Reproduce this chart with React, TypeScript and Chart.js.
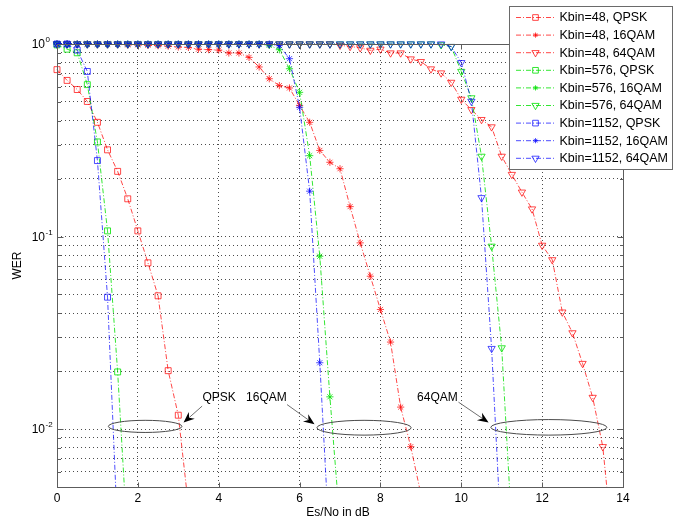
import React, { useEffect, useRef } from 'react';
import { Chart, registerables } from 'chart.js';

Chart.register(...registerables);

const FONT = '"Liberation Sans", Arial, Helvetica, sans-serif';

// Es/No grid in dB (shared x positions for every curve)
const esno = [
  0, 0.25, 0.5, 0.75, 1, 1.25, 1.5, 1.75, 2, 2.25, 2.5, 2.75, 3, 3.25,
  3.5, 3.75, 4, 4.25, 4.5, 4.75, 5, 5.25, 5.5, 5.75, 6, 6.25, 6.5, 6.75,
  7, 7.25, 7.5, 7.75, 8, 8.25, 8.5, 8.75, 9, 9.25, 9.5, 9.75, 10, 10.25,
  10.5, 10.75, 11, 11.25, 11.5, 11.75, 12, 12.25, 12.5, 12.75, 13, 13.25,
  13.5, 13.75,
];

const werQpsk48 = [0.736, 0.647, 0.58, 0.503, 0.392, 0.282, 0.218, 0.157, 0.107, 0.073, 0.0492, 0.0201, 0.0118, 0.004];
const werQpsk576 = [0.99, 0.94, 0.9, 0.615, 0.31, 0.107, 0.0198, 0.0025];
const werQpsk1152 = [1, 1, 0.93, 0.72, 0.248, 0.0484, 0.0029];

const wer16qam48 = [
  1, 1, 1, 1, 1, 1, 0.995, 0.99, 0.99, 0.985, 0.98, 0.975, 0.965, 0.96,
  0.94, 0.935, 0.93, 0.898, 0.898, 0.852, 0.76, 0.66, 0.608, 0.591, 0.479,
  0.392, 0.28, 0.243, 0.225, 0.143, 0.0927, 0.0622, 0.0418, 0.0283, 0.013,
  0.0081, 0.0046,
];
const wer16qam576 = [
  1, 1, 1, 1, 1, 1, 1, 1, 1, 1, 1, 1, 1, 1, 1, 1, 1, 1, 1, 1, 1, 0.985,
  0.934, 0.744, 0.561, 0.263, 0.079, 0.0147, 0.0032,
];
const wer16qam1152 = [
  1, 1, 1, 1, 1, 1, 1, 1, 1, 1, 1, 1, 1, 1, 1, 1, 1, 1, 1, 1, 1, 1,
  0.98, 0.839, 0.469, 0.172, 0.0221, 0.0023,
];

const wer64qam48 = [
  1, 1, 1, 1, 1, 1, 1, 1, 1, 1, 1, 1, 1, 1, 1, 1, 1, 1, 1, 1, 1, 1, 1, 1,
  1, 1, 1, 1, 0.985, 0.97, 0.955, 0.927, 0.94, 0.898, 0.898, 0.836, 0.81,
  0.742, 0.707, 0.632, 0.516, 0.456, 0.405, 0.371, 0.261, 0.21, 0.17, 0.139,
  0.09, 0.0757, 0.0405, 0.0316, 0.0219, 0.0146, 0.0081, 0.0024,
];
const wer64qam576 = [
  1, 1, 1, 1, 1, 1, 1, 1, 1, 1, 1, 1, 1, 1, 1, 1, 1, 1, 1, 1, 1, 1, 1, 1,
  1, 1, 1, 1, 1, 1, 1, 1, 1, 1, 1, 1, 1, 1, 0.99, 0.97, 0.72, 0.525, 0.261,
  0.089, 0.0264, 0.003,
];
const wer64qam1152 = [
  1, 1, 1, 1, 1, 1, 1, 1, 1, 1, 1, 1, 1, 1, 1, 1, 1, 1, 1, 1, 1, 1, 1, 1,
  1, 1, 1, 1, 1, 1, 1, 1, 1, 1, 1, 1, 1, 1, 1, 0.97, 0.8, 0.504, 0.159,
  0.0262, 0.0024,
];

const seriesNames = [
  'Kbin=48, QPSK', 'Kbin=48, 16QAM', 'Kbin=48, 64QAM',
  'Kbin=576, QPSK', 'Kbin=576, 16QAM', 'Kbin=576, 64QAM',
  'Kbin=1152, QPSK', 'Kbin=1152, 16QAM', 'Kbin=1152, 64QAM',
];
const seriesValues = [
  werQpsk48, wer16qam48, wer64qam48,
  werQpsk576, wer16qam576, wer64qam576,
  werQpsk1152, wer16qam1152, wer64qam1152,
];
const seriesColors = [
  'rgba(255,0,0,0.72)', 'rgba(255,0,0,0.72)', 'rgba(255,0,0,0.72)',
  'rgba(0,225,0,0.8)', 'rgba(0,225,0,0.8)', 'rgba(0,225,0,0.8)',
  'rgba(0,0,255,0.7)', 'rgba(0,0,255,0.7)', 'rgba(0,0,255,0.7)',
];
const seriesMarkers = ['rect', 'star', 'tri', 'rect', 'star', 'tri', 'rect', 'star', 'tri'];

const xTicks = [0, 2, 4, 6, 8, 10, 12, 14];
const yTicks = [
  0.005, 0.006, 0.007, 0.008, 0.009,
  0.01, 0.02, 0.03, 0.04, 0.05, 0.06, 0.07, 0.08, 0.09,
  0.1, 0.2, 0.3, 0.4, 0.5, 0.6, 0.7, 0.8, 0.9, 1,
];
const yMajorLabels = [
  { value: 1, exp: '0' },
  { value: 0.1, exp: '-1' },
  { value: 0.01, exp: '-2' },
];

// annotations in data coordinates
const ellipses = [
  { x0: 1.27, x1: 3.09, y0: 0.0096, y1: 0.0111 },
  { x0: 6.43, x1: 8.76, y0: 0.0093, y1: 0.0111 },
  { x0: 10.73, x1: 13.6, y0: 0.0093, y1: 0.0112 },
];
const noteLabels = [
  { text: 'QPSK', x: 4.01, y: 0.0146 },
  { text: '16QAM', x: 5.18, y: 0.0146 },
  { text: '64QAM', x: 9.41, y: 0.0146 },
];
const arrows = [
  { x0: 3.59, y0: 0.01316, x1: 3.13, y1: 0.0108 },
  { x0: 5.69, y0: 0.0134, x1: 6.37, y1: 0.01058 },
  { x0: 9.93, y0: 0.0138, x1: 10.675, y1: 0.0108 },
];

const DASH = [5, 2, 1, 2];

function drawMarker(ctx: CanvasRenderingContext2D, style: string, x: number, y: number, r: number) {
  ctx.beginPath();
  if (style === 'rect') {
    const s = r * Math.SQRT1_2;
    ctx.rect(x - s, y - s, 2 * s, 2 * s);
  } else if (style === 'star') {
    for (let k = 0; k < 4; k++) {
      const ang = (k * Math.PI) / 4;
      ctx.moveTo(x + Math.cos(ang) * r, y + Math.sin(ang) * r);
      ctx.lineTo(x - Math.cos(ang) * r, y - Math.sin(ang) * r);
    }
  } else {
    for (let k = 0; k < 3; k++) {
      const ang = Math.PI + (k * 2 * Math.PI) / 3;
      const px = x + Math.sin(ang) * r;
      const py = y - Math.cos(ang) * r;
      if (k === 0) ctx.moveTo(px, py);
      else ctx.lineTo(px, py);
    }
    ctx.closePath();
  }
  ctx.stroke();
}

const overlayPlugin = {
  id: 'overlay',
  afterDraw(chart: any) {
    const { ctx, chartArea: a, scales } = chart;
    const xs = scales.x;
    const ys = scales.y;
    ctx.save();

    // axes box
    ctx.setLineDash([]);
    ctx.strokeStyle = '#5c5c5c';
    ctx.lineWidth = 1;
    const L = Math.round(a.left) + 0.5;
    const R = Math.round(a.right) + 0.5;
    const T = Math.round(a.top) + 0.5;
    const B = Math.round(a.bottom) + 0.5;
    ctx.strokeRect(L, T, R - L, B - T);

    // ticks
    ctx.beginPath();
    for (const v of xTicks) {
      const px = Math.round(xs.getPixelForValue(v)) + 0.5;
      ctx.moveTo(px, B); ctx.lineTo(px, B - 5);
      ctx.moveTo(px, T); ctx.lineTo(px, T + 5);
    }
    for (const v of yTicks) {
      const py = Math.round(ys.getPixelForValue(v)) + 0.5;
      const len = yMajorLabels.some((m) => m.value === v) ? 6 : 3.5;
      ctx.moveTo(L, py); ctx.lineTo(L + len, py);
      ctx.moveTo(R, py); ctx.lineTo(R - len, py);
    }
    ctx.stroke();

    // y labels with superscript
    ctx.fillStyle = '#000';
    for (const m of yMajorLabels) {
      const py = ys.getPixelForValue(m.value);
      ctx.font = `12px ${FONT}`;
      ctx.textAlign = 'right';
      ctx.textBaseline = 'middle';
      ctx.fillText('10', a.left - 12, py + 1);
      ctx.font = `8px ${FONT}`;
      ctx.textAlign = 'left';
      ctx.fillText(m.exp, a.left - 11.5, py - 4);
    }

    // axis titles
    ctx.font = `12px ${FONT}`;
    ctx.textAlign = 'center';
    ctx.textBaseline = 'middle';
    ctx.fillText('Es/No in dB', (a.left + a.right) / 2 - 2, 513);
    ctx.save();
    ctx.translate(18, (a.top + a.bottom) / 2);
    ctx.rotate(-Math.PI / 2);
    ctx.fillText('WER', 0, 0);
    ctx.restore();

    // ellipses
    ctx.strokeStyle = '#4a4a4a';
    ctx.lineWidth = 1;
    for (const e of ellipses) {
      const px0 = xs.getPixelForValue(e.x0);
      const px1 = xs.getPixelForValue(e.x1);
      const py0 = ys.getPixelForValue(e.y0);
      const py1 = ys.getPixelForValue(e.y1);
      ctx.beginPath();
      ctx.ellipse((px0 + px1) / 2, (py0 + py1) / 2, Math.abs(px1 - px0) / 2, Math.abs(py1 - py0) / 2, 0, 0, Math.PI * 2);
      ctx.stroke();
    }

    // arrows
    for (const ar of arrows) {
      const x0 = xs.getPixelForValue(ar.x0);
      const y0 = ys.getPixelForValue(ar.y0);
      const x1 = xs.getPixelForValue(ar.x1);
      const y1 = ys.getPixelForValue(ar.y1);
      const ang = Math.atan2(y1 - y0, x1 - x0);
      const hl = 11;
      const hw = 4.5;
      const bx = x1 - Math.cos(ang) * hl;
      const by = y1 - Math.sin(ang) * hl;
      ctx.strokeStyle = '#707070';
      ctx.beginPath();
      ctx.moveTo(x0, y0);
      ctx.lineTo(bx + Math.cos(ang) * 3, by + Math.sin(ang) * 3);
      ctx.stroke();
      const nx = -Math.sin(ang);
      const ny = Math.cos(ang);
      ctx.fillStyle = '#000';
      ctx.beginPath();
      ctx.moveTo(x1, y1);
      ctx.lineTo(bx + nx * hw, by + ny * hw);
      ctx.lineTo(bx + Math.cos(ang) * 3.5, by + Math.sin(ang) * 3.5);
      ctx.lineTo(bx - nx * hw, by - ny * hw);
      ctx.closePath();
      ctx.fill();
    }

    // annotation texts
    ctx.fillStyle = '#000';
    ctx.font = `12px ${FONT}`;
    ctx.textAlign = 'center';
    ctx.textBaseline = 'middle';
    for (const t of noteLabels) {
      ctx.fillText(t.text, xs.getPixelForValue(t.x), ys.getPixelForValue(t.y));
    }

    // legend
    const lx = Math.round(a.right) - 114;
    const ly = 6;
    const lw = 163;
    const lh = 163;
    ctx.fillStyle = '#fff';
    ctx.fillRect(lx, ly, lw, lh);
    ctx.strokeStyle = '#6a6a6a';
    ctx.strokeRect(lx + 0.5, ly + 0.5, lw, lh);
    ctx.font = `12.5px ${FONT}`;
    ctx.textAlign = 'left';
    ctx.textBaseline = 'middle';
    seriesNames.forEach((name, i) => {
      const cy = ly + 11.5 + i * 17.6;
      ctx.strokeStyle = seriesColors[i];
      ctx.lineWidth = 1;
      ctx.setLineDash(DASH);
      ctx.beginPath();
      ctx.moveTo(lx + 7, cy);
      ctx.lineTo(lx + 46, cy);
      ctx.stroke();
      ctx.setLineDash([]);
      const m = seriesMarkers[i];
      drawMarker(ctx, m, lx + 26.5, cy, m === 'star' ? 2.6 : m === 'rect' ? 4 : 4.2);
      ctx.fillStyle = '#000';
      ctx.fillText(name, lx + 50.5, cy + 0.5);
    });

    ctx.restore();
  },
};

export default function App() {
  const ref = useRef<HTMLCanvasElement>(null);

  useEffect(() => {
    document.body.style.margin = '0';
    const canvas = ref.current;
    if (!canvas) return;

    const datasets = seriesValues.map((vals, i) => {
      const m = seriesMarkers[i];
      return {
        label: seriesNames[i],
        data: vals.map((v, k) => ({ x: esno[k], y: v })),
        borderColor: seriesColors[i],
        borderWidth: 1,
        borderDash: DASH,
        pointStyle: m === 'rect' ? 'rect' : m === 'star' ? 'star' : 'triangle',
        pointRotation: m === 'tri' ? 180 : 0,
        pointRadius: m === 'rect' ? 4.2 : m === 'star' ? 3.6 : 4.2,
        pointBorderColor: seriesColors[i],
        pointBackgroundColor: 'rgba(0,0,0,0)',
        pointBorderWidth: 1,
        tension: 0,
        fill: false,
        order: seriesValues.length - 1 - i,
        clip: { left: 8, right: 8, top: 8, bottom: 0 },
      };
    });

    const chart = new Chart(canvas, {
      type: 'line',
      data: { datasets },
      plugins: [overlayPlugin],
      options: {
        responsive: false,
        animation: false,
        devicePixelRatio: 1,
        events: [],
        layout: { padding: { left: 0, right: 70, top: 44, bottom: 0 } },
        plugins: {
          legend: { display: false },
          tooltip: { enabled: false },
          title: { display: false },
        },
        scales: {
          x: {
            type: 'linear',
            min: 0,
            max: 14,
            afterBuildTicks: (s: any) => {
              s.ticks = xTicks.map((v) => ({ value: v }));
            },
            ticks: {
              color: '#000',
              font: { family: FONT, size: 12 },
              padding: 4,
              maxRotation: 0,
              autoSkip: false,
            },
            grid: { color: 'rgba(0,0,0,0.7)', lineWidth: 1, drawTicks: false },
            border: { display: false, dash: [1, 3] },
            afterFit: (s: any) => {
              s.height = 35;
            },
          },
          y: {
            type: 'logarithmic',
            min: 0.005,
            max: 1,
            afterBuildTicks: (s: any) => {
              s.ticks = yTicks.map((v) => ({ value: v }));
            },
            ticks: { display: false },
            grid: { color: 'rgba(0,0,0,0.7)', lineWidth: 1, drawTicks: false },
            border: { display: false, dash: [1, 3] },
            afterFit: (s: any) => {
              s.width = 57;
            },
          },
        },
      } as any,
    });

    return () => chart.destroy();
  }, []);

  return (
    <canvas
      ref={ref}
      width={693}
      height={522}
      style={{ display: 'block', width: 693, height: 522 }}
    />
  );
}
